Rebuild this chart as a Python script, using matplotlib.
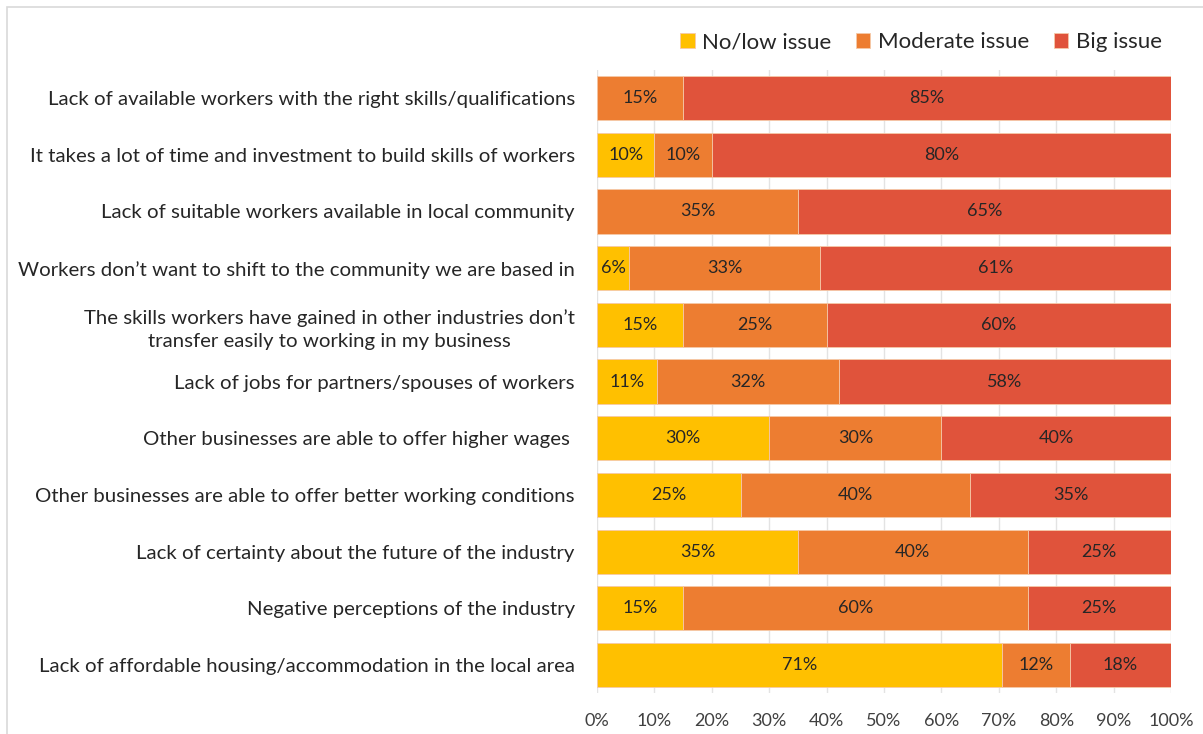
import matplotlib.pyplot as plt
from matplotlib.patches import Rectangle
from matplotlib.ticker import PercentFormatter

plt.rcParams['font.family'] = ['Lato', 'DejaVu Sans']

issues = [
    'Lack of available workers with the right skills/qualifications',
    'It takes a lot of time and investment to build skills of workers',
    'Lack of suitable workers available in local community',
    'Workers don\u2019t want to shift to the community we are based in',
    'The skills workers have gained in other industries don\u2019t\ntransfer easily to working in my business',
    'Lack of jobs for partners/spouses of workers',
    'Other businesses are able to offer higher wages ',
    'Other businesses are able to offer better working conditions',
    'Lack of certainty about the future of the industry',
    'Negative perceptions of the industry',
    'Lack of affordable housing/accommodation in the local area',
]
no_low = [0, 10, 0, 5.56, 15, 10.53, 30, 25, 35, 15, 70.59]
moderate = [15, 10, 35, 33.33, 25, 31.58, 30, 40, 40, 60, 11.76]
big = [85, 80, 65, 61.11, 60, 57.89, 40, 35, 25, 25, 17.65]

series = [('No/low issue', no_low, '#FFC000'),
          ('Moderate issue', moderate, '#ED7D31'),
          ('Big issue', big, '#E0533B')]

fig = plt.figure(figsize=(12.03, 7.34), dpi=100)
ax = fig.add_axes([0.4963, 0.0553, 0.4771, 0.8497])

y = list(range(len(issues)))
left = [0] * len(issues)
for name, vals, color in series:
    bars = ax.barh(y, vals, left=left, height=0.78, color=color,
                   edgecolor='#F6C9A8', linewidth=0.6, label=name, zorder=2)
    for b, v in zip(bars, vals):
        if v > 0:
            ax.text(b.get_x() + b.get_width() / 2, b.get_y() + b.get_height() / 2,
                    f'{v:.0f}%', ha='center', va='center', fontsize=13,
                    color='#262626', zorder=3)
    left = [l + v for l, v in zip(left, vals)]

ax.set_xlim(0, 100)
ax.set_ylim(len(issues) - 0.5, -0.5)
ax.set_yticks(y)
ax.set_yticklabels(issues, fontsize=14.7, color='#262626', ha='right',
                   multialignment='center', linespacing=1.45)
ax.set_xticks(range(0, 101, 10))
ax.xaxis.set_major_formatter(PercentFormatter(decimals=0))
ax.tick_params(axis='x', labelsize=13, colors='#404040', length=0, pad=14)
ax.tick_params(axis='y', length=0, pad=16)
ax.grid(axis='x', color='#E3E3E3', linewidth=1, zorder=0)
for s in ax.spines.values():
    s.set_visible(False)

ax.legend(loc='lower right', bbox_to_anchor=(1.0, 1.014), ncol=3, frameon=False,
          fontsize=16, handlelength=0.65, handleheight=0.65, handletextpad=0.35,
          columnspacing=1.1, borderaxespad=0, labelcolor='#262626')

# light frame around the chart area
fig.patches.append(Rectangle((7 / 1203, -0.1), 1.2, 1 - 7 / 734 + 0.1,
                             transform=fig.transFigure, fill=False,
                             edgecolor='#D9D9D9', linewidth=1.2))

fig.savefig('out.png', dpi=100)
